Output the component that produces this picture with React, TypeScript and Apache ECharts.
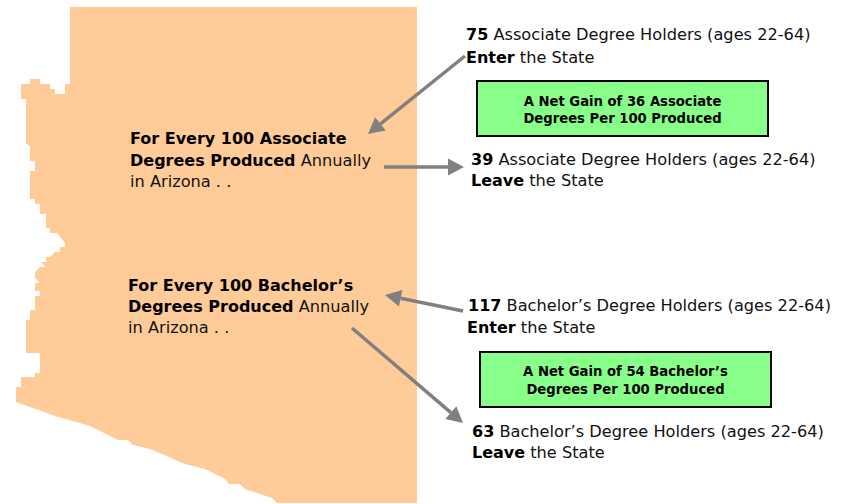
import React, { useEffect, useRef } from "react";
import * as echarts from "echarts";

const degreeTypes = ["Associate", "Bachelor’s"];
const enterCounts = [75, 117];
const leaveCounts = [39, 63];
const netGains = [36, 54];

const FONT = "'DejaVu Sans', Verdana, sans-serif";
const ORANGE = "#FFCC99";
const GREEN = "#88FF88";
const GREY = "#808080";
const SIZE = 16.2;
const BOLD_SIZE = 16;
const BOX_SIZE = 13.2;

// Outline of the state, decorative backdrop
const outline: number[][] = [
  [70, 7], [417, 7], [417, 503], [277, 503], [272, 498], [245, 489], [240, 484], [229, 484], [225, 479],
  [205, 469], [185, 464], [150, 449], [133, 445], [128, 440], [118, 440], [90, 426], [55, 416], [16, 402],
  [16, 387], [21, 387], [21, 377], [35, 377], [35, 373], [40, 373], [40, 353], [26, 353], [26, 320],
  [30, 320], [30, 310], [35, 310], [35, 296], [40, 296], [40, 291], [35, 291], [35, 283], [40, 283],
  [35, 278], [35, 272], [40, 267], [46, 267], [41, 262], [46, 262], [46, 257], [50, 257], [55, 252],
  [60, 252], [60, 247], [65, 247], [65, 243], [57, 233], [50, 233], [50, 228], [46, 228], [46, 214],
  [40, 214], [40, 204], [35, 204], [35, 199], [30, 199], [30, 171], [35, 171], [35, 161], [30, 161],
  [30, 147], [26, 143], [26, 99], [21, 99], [21, 84], [30, 84], [30, 79], [40, 79], [40, 84], [50, 84],
  [50, 89], [55, 89], [55, 94], [65, 94], [65, 84], [70, 84],
];

const rich = {
  b: { fontFamily: FONT, fontSize: BOLD_SIZE, fontWeight: "bold" as const, fill: "#000" },
  n: { fontFamily: FONT, fontSize: SIZE, fill: "#111" },
};

function label(x: number, y: number, text: string) {
  return {
    type: "text",
    x,
    y,
    style: { text, rich, font: `${SIZE}px ${FONT}`, fill: "#111", verticalAlign: "middle", align: "left" },
  };
}

function arrow(x1: number, y1: number, x2: number, y2: number) {
  const a = Math.atan2(y2 - y1, x2 - x1);
  const len = 16;
  const half = 8.5;
  const bx = x2 - len * Math.cos(a);
  const by = y2 - len * Math.sin(a);
  const nx = -Math.sin(a);
  const ny = Math.cos(a);
  return [
    { type: "line", shape: { x1, y1, x2: bx, y2: by }, style: { stroke: GREY, lineWidth: 3.5 } },
    {
      type: "polygon",
      shape: { points: [[x2, y2], [bx + nx * half, by + ny * half], [bx - nx * half, by - ny * half]] },
      style: { fill: GREY },
    },
  ];
}

function box(x: number, y: number, w: number, h: number, l1: string, l2: string, y1: number, y2: number) {
  const t = (yy: number, text: string) => ({
    type: "text",
    x: x + w / 2,
    y: yy,
    style: {
      text,
      font: `bold ${BOX_SIZE}px ${FONT}`,
      fill: "#000",
      align: "center",
      verticalAlign: "middle",
    },
  });
  return [
    { type: "rect", shape: { x, y, width: w, height: h }, style: { fill: GREEN, stroke: "#000", lineWidth: 2 } },
    t(y1, l1),
    t(y2, l2),
  ];
}

export default function App() {
  const ref = useRef<HTMLDivElement>(null);
  useEffect(() => {
    const chart = echarts.init(ref.current!, undefined, { renderer: "svg" });
    const elements: any[] = [
      { type: "polygon", shape: { points: outline }, style: { fill: ORANGE } },
      label(130, 138, `{b|For Every 100 ${degreeTypes[0]}}`),
      label(130, 160, `{b|Degrees Produced} {n|Annually}`),
      label(130, 181, `{n|in Arizona . .}`),
      label(128, 285, `{b|For Every 100 ${degreeTypes[1]}}`),
      label(128, 306, `{b|Degrees Produced} {n|Annually}`),
      label(128, 327, `{n|in Arizona . .}`),
      label(466, 34, `{b|${enterCounts[0]}} {n|${degreeTypes[0]} Degree Holders (ages 22-64)}`),
      label(466, 57, `{b|Enter} {n|the State}`),
      label(471, 159, `{b|${leaveCounts[0]}} {n|${degreeTypes[0]} Degree Holders (ages 22-64)}`),
      label(471, 180, `{b|Leave} {n|the State}`),
      label(468, 305, `{b|${enterCounts[1]}} {n|${degreeTypes[1]} Degree Holders (ages 22-64)}`),
      label(467, 327, `{b|Enter} {n|the State}`),
      label(472, 431, `{b|${leaveCounts[1]}} {n|${degreeTypes[1]} Degree Holders (ages 22-64)}`),
      label(472, 452, `{b|Leave} {n|the State}`),
      ...box(477, 81, 291, 55, `A Net Gain of ${netGains[0]} ${degreeTypes[0]}`, "Degrees Per 100 Produced", 101, 118),
      ...box(480, 352, 291, 55, `A Net Gain of ${netGains[1]} ${degreeTypes[1]}`, "Degrees Per 100 Produced", 371, 389),
      ...arrow(465, 56, 368, 134),
      ...arrow(384, 167, 464, 167),
      ...arrow(463, 311, 385, 295),
      ...arrow(352, 328, 463, 423),
    ];
    chart.setOption({ animation: false, backgroundColor: "#fff", graphic: { elements } });
    return () => chart.dispose();
  }, []);
  return <div ref={ref} style={{ position: "absolute", left: 0, top: 0, width: 843, height: 504 }} />;
}
